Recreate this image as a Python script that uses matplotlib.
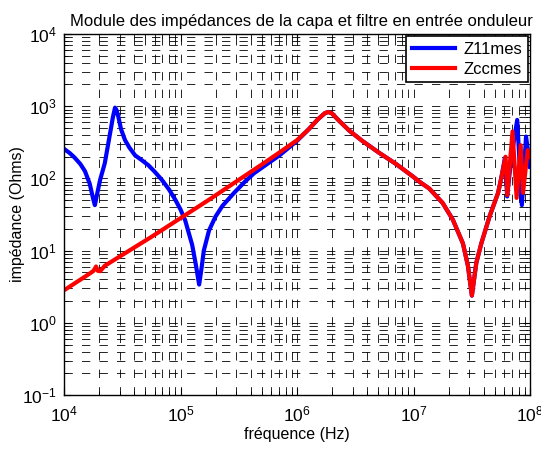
import numpy as np
import matplotlib
matplotlib.use("Agg")
import matplotlib.pyplot as plt

plt.rcParams['font.family'] = ['Liberation Sans', 'DejaVu Sans']
plt.rcParams['mathtext.fontset'] = 'custom'
plt.rcParams['mathtext.rm'] = 'Liberation Sans'
plt.rcParams['mathtext.it'] = 'Liberation Sans'
plt.rcParams['mathtext.default'] = 'regular'

# Z11mes: log10(frequency), log10(impedance)
z11_logf = [4.00, 4.05, 4.09, 4.14, 4.18, 4.22, 4.25, 4.265, 4.28, 4.31, 4.35, 4.395,
            4.42, 4.438, 4.45, 4.467, 4.49, 4.524, 4.56, 4.61, 4.67, 4.726, 4.78, 4.84,
            4.90, 4.957, 5.00, 5.04, 5.07, 5.10, 5.13, 5.16, 5.18, 5.20, 5.245, 5.30,
            5.36, 5.46, 5.55, 5.63, 5.70, 5.85, 6.00, 6.10, 6.18, 6.24, 6.27, 6.30,
            6.36, 6.45, 6.56, 6.70, 6.85, 7.00, 7.05, 7.135, 7.25, 7.337, 7.424, 7.467,
            7.501, 7.539, 7.582, 7.654, 7.726, 7.755, 7.784, 7.804, 7.84, 7.89, 7.93,
            7.966, 8.00]
z11_logz = [2.41, 2.35, 2.29, 2.20, 2.10, 1.93, 1.72, 1.63, 1.75, 1.98, 2.21, 2.62,
            2.85, 2.98, 2.95, 2.85, 2.68, 2.53, 2.43, 2.32, 2.25, 2.18, 2.09, 1.98,
            1.85, 1.70, 1.57, 1.42, 1.25, 1.08, 0.82, 0.53, 0.75, 1.00, 1.28, 1.47,
            1.62, 1.80, 1.95, 2.07, 2.15, 2.32, 2.52, 2.68, 2.82, 2.905, 2.92, 2.90,
            2.80, 2.66, 2.52, 2.36, 2.20, 2.02, 1.955, 1.86, 1.66, 1.43, 1.10, 0.79,
            0.377, 0.83, 1.10, 1.48, 1.80, 2.02, 2.28, 1.75, 2.30, 2.81, 1.63,
            2.58, 2.16]

# Zccmes
zcc_logf = [4.00, 4.10, 4.20, 4.25, 4.265, 4.275, 4.29, 4.31, 4.35, 4.50, 4.75, 5.00,
            5.25, 5.50, 5.70, 5.85, 6.00, 6.10, 6.18, 6.24, 6.27, 6.30, 6.36, 6.45,
            6.56, 6.70, 6.85, 7.00, 7.05, 7.135, 7.25, 7.337, 7.424, 7.467, 7.501,
            7.539, 7.582, 7.654, 7.726, 7.755, 7.79, 7.805, 7.85, 7.885, 7.92, 7.94,
            7.98, 8.00]
zcc_logz = [0.45, 0.555, 0.66, 0.715, 0.75, 0.78, 0.72, 0.715, 0.79, 0.94, 1.19, 1.45,
            1.71, 1.98, 2.195, 2.36, 2.53, 2.68, 2.82, 2.905, 2.92, 2.90, 2.80, 2.66,
            2.52, 2.36, 2.20, 2.02, 1.955, 1.86, 1.66, 1.43, 1.10, 0.79, 0.377,
            0.83, 1.10, 1.48, 1.80, 2.02, 2.30, 1.77, 2.65, 1.73, 2.46, 1.80,
            2.39, 2.30]

f11 = 10 ** np.array(z11_logf)
z11 = 10 ** np.array(z11_logz)
fcc = 10 ** np.array(zcc_logf)
zcc = 10 ** np.array(zcc_logz)

fig = plt.figure(figsize=(5.41, 4.5), dpi=100)
ax = fig.add_axes([0.1183, 0.1222, 0.8614, 0.8022])

ax.loglog(f11, z11, color='#0000ff', lw=3, label='Z11mes')
ax.loglog(fcc, zcc, color='#ff0000', lw=3, label='Zccmes')

ax.set_xlim(1e4, 1e8)
ax.set_ylim(1e-1, 1e4)

ax.grid(True, which='both', color='black', linestyle=(0, (10, 11)), lw=0.6)
ax.tick_params(which='both', direction='in', top=True, right=True, labelsize=12.5)
ax.tick_params(which='major', length=5)
ax.tick_params(which='minor', length=3)
ax.tick_params(axis='x', which='major', pad=7)
ax.tick_params(axis='y', which='major', pad=5)
for s in ax.spines.values():
    s.set_linewidth(1.0)

ax.set_xlabel('fréquence (Hz)', fontsize=11.5, labelpad=2)
ax.set_ylabel('impédance (Ohms)', fontsize=11.5)
ax.yaxis.set_label_coords(-0.084, 0.5)
ax.set_title('Module des impédances de la capa et filtre en entrée onduleur',
             fontsize=12, pad=6, x=0.51)

leg = ax.legend(loc='upper right', fontsize=12, fancybox=False, framealpha=1,
                edgecolor='black', borderaxespad=0.1, handlelength=2.6,
                handletextpad=0.5, borderpad=0.35, labelspacing=0.3)
leg.get_frame().set_linewidth(1.2)

fig.savefig('out.png', dpi=100)
